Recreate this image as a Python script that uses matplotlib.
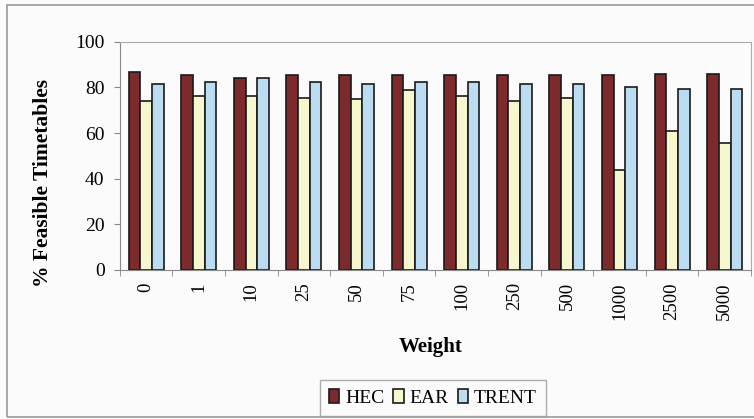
import numpy as np
import matplotlib
matplotlib.use("Agg")
import matplotlib.pyplot as plt
from matplotlib.patches import Rectangle

weights = ["0", "1", "10", "25", "50", "75", "100", "250", "500", "1000", "2500", "5000"]
hec = [86.6, 85.6, 84.2, 85.6, 85.6, 85.6, 85.6, 85.6, 85.6, 85.6, 86.1, 86.1]
ear = [74.2, 76.1, 76.1, 75.4, 75.0, 78.8, 76.1, 73.9, 75.4, 43.6, 60.7, 55.6]
trent = [81.5, 82.6, 84.0, 82.6, 81.5, 82.6, 82.6, 81.7, 81.7, 80.2, 79.5, 79.5]

series = [("HEC", hec, "#7d2a2c"), ("EAR", ear, "#f6f6cf"), ("TRENT", trent, "#bcdcf2")]

plt.rcParams['font.family'] = ['Liberation Serif', 'DejaVu Serif']

fig = plt.figure(figsize=(7.54, 4.19), dpi=100, facecolor="#fbfbfb")
ax = fig.add_axes([0.159, 0.356, 0.837, 0.544])
ax.set_facecolor("#fbfbfb")

x = np.arange(len(weights))
bw = 0.222
for i, (name, vals, col) in enumerate(series):
    ax.bar(x + (i - 1) * bw, vals, bw, color=col, edgecolor="#1a1a1a",
           linewidth=1.2, label=name)

ax.set_xlim(-0.5, len(weights) - 0.5)
ax.set_ylim(0, 100)
ax.set_yticks(range(0, 101, 20))
ax.set_xticks(x)
ax.set_xticklabels(weights, rotation=90, fontsize=13.5)
ax.set_xticks(np.arange(-0.5, len(weights), 1), minor=True)
ax.tick_params(axis="x", which="major", length=0, pad=9)
ax.tick_params(axis="x", which="minor", length=4, color="#888888", direction="out")
ax.tick_params(axis="y", length=4, color="#888888", labelsize=14, pad=7)

for s in ["left", "bottom"]:
    ax.spines[s].set_color("#888888")
for s in ["top", "right"]:
    ax.spines[s].set_color("#aaaaaa")
    ax.spines[s].set_linewidth(0.8)

ax.set_ylabel("% Feasible Timetables", fontsize=15.5, fontweight="bold")
ax.yaxis.set_label_coords(-0.106, 0.38)
ax.set_xlabel("Weight", fontsize=15, fontweight="bold")
ax.xaxis.set_label_coords(0.492, -0.295)

leg = fig.legend(loc="center", bbox_to_anchor=(0.574, 0.05), ncol=3, fontsize=14,
                 frameon=True, fancybox=False, edgecolor="#999999",
                 handlelength=0.55, handleheight=0.75, handletextpad=0.3,
                 columnspacing=0.45, borderpad=0.45)
leg.get_frame().set_facecolor("#fbfbfb")

# outer chart border
fig.patches.append(Rectangle((0.009, 0.005), 1.0, 0.983, transform=fig.transFigure,
                             fill=False, edgecolor="#999999", linewidth=1.2))

fig.savefig("out.png", dpi=100, facecolor=fig.get_facecolor())
